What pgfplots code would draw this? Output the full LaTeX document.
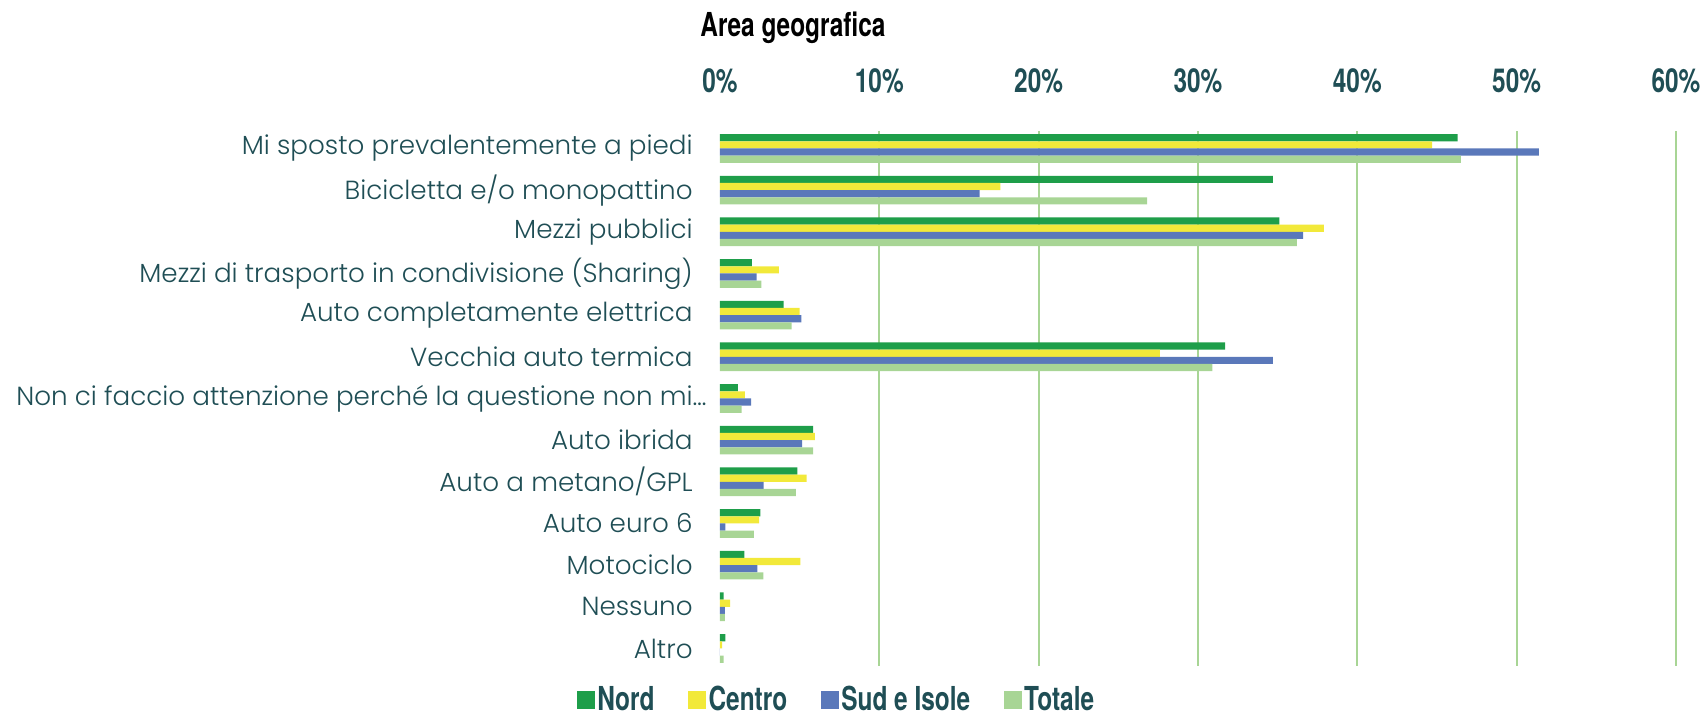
\documentclass[border=0pt]{standalone}
\usepackage{fontspec}
\usepackage{pgfplots}
\usepackage{pgfplotstable}
\pgfplotsset{compat=1.18}
\setmainfont{Poppins Light}
\newfontfamily\condfont{TeX Gyre Heros}[FakeStretch=0.74]
\definecolor{nord}{HTML}{1E9E4A}
\definecolor{centro}{HTML}{F2E93A}
\definecolor{sud}{HTML}{5A78BA}
\definecolor{tot}{HTML}{A8D595}
\definecolor{txt}{HTML}{1F4E55}
\definecolor{gridc}{HTML}{A8D595}

\pgfplotstableread{
y nord centro sud tot
12 46.3 44.7 51.4 46.5
11 34.7 17.6 16.3 26.8
10 35.1 37.9 36.6 36.2
9 2.0 3.7 2.3 2.6
8 4.0 5.0 5.1 4.5
7 31.7 27.6 34.7 30.9
6 1.13 1.56 1.95 1.35
5 5.84 5.96 5.16 5.84
4 4.85 5.43 2.74 4.76
3 2.53 2.45 0.33 2.13
2 1.53 5.04 2.34 2.72
1 0.23 0.63 0.31 0.31
0 0.33 0.13 0 0.23
}\data

\begin{document}
\begin{tikzpicture}
\useasboundingbox (-360pt,-24.5pt) rectangle (493pt,333pt);
\begin{axis}[
  at={(0,0)}, anchor=south west,
  width=478pt, height=267.5pt, scale only axis,
  xbar, bar width=0.172,
  xmin=0, xmax=60, ymin=-0.42, ymax=12.42,
  axis line style={draw=none},
  major tick length=0pt,
  xticklabel pos=upper,
  xtick={0,10,...,60},
  xticklabels={0\%,10\%,20\%,30\%,40\%,50\%,60\%},
  xticklabel style={font=\condfont\bfseries\fontsize{16.5}{18}\selectfont, text=txt, anchor=base, inner sep=0pt, yshift=19.35pt},
  extra x ticks={10,20,...,60},
  extra x tick labels={},
  extra x tick style={grid=major, major grid style={draw=gridc, line width=1pt}},
  ytick={0,...,12},
  yticklabels={Altro,Nessuno,Motociclo,Auto euro 6,Auto a metano/GPL,Auto ibrida,Non ci faccio attenzione perché la questione non mi\rlap{…},Vecchia auto termica,Auto completamente elettrica,Mezzi di trasporto in condivisione (Sharing),Mezzi pubblici,Bicicletta e/o monopattino,Mi sposto prevalentemente a piedi},
  yticklabel style={font=\fontsize{13.1}{15}\selectfont, text=txt, anchor=east, inner sep=0pt, xshift=-13.5pt},
  legend columns=4,
  legend style={draw=none, fill=none, at={(axis description cs:-0.15,-0.0916)}, anchor=south west, yshift=-1.5pt, inner sep=0pt, font=\condfont\bfseries\fontsize{16.5}{18}\selectfont, text=txt, /tikz/every even column/.append style={column sep=14.8pt}, /tikz/every odd column/.append style={column sep=-0.8pt}},
  legend image code/.code={\fill[#1] (0pt,-4.6pt) rectangle (9pt,4.6pt);},
]
\addplot[fill=nord, draw=none, bar shift=0.258] table[x=nord,y=y]{\data};
\addplot[fill=centro, draw=none, bar shift=0.086] table[x=centro,y=y]{\data};
\addplot[fill=sud, draw=none, bar shift=-0.086] table[x=sud,y=y]{\data};
\addplot[fill=tot, draw=none, bar shift=-0.258] table[x=tot,y=y]{\data};
\legend{Nord,Centro,Sud e Isole,Totale}
\end{axis}
\node[anchor=base west, inner sep=0pt, font=\condfont\bfseries\fontsize{16.5}{18}\selectfont] at (-10pt,314.5pt) {Area geografica};
\end{tikzpicture}
\end{document}
